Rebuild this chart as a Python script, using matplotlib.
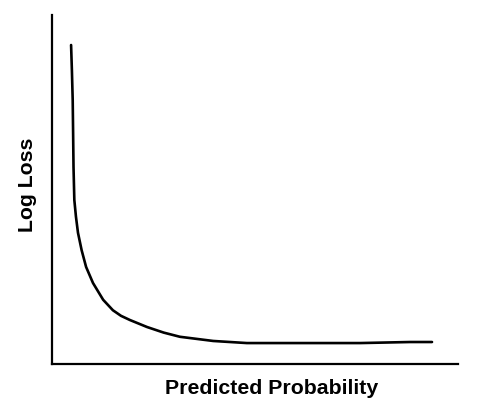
import matplotlib
matplotlib.use("Agg")
import matplotlib.pyplot as plt

# NOTE: curve (predicted probability vs log loss)
probability = [0.047, 0.049, 0.051, 0.052, 0.053, 0.055, 0.059, 0.064, 0.073,
               0.084, 0.101, 0.126, 0.150, 0.170, 0.192, 0.234, 0.275, 0.315,
               0.397, 0.480, 0.562, 0.660, 0.759, 0.882, 0.936]
log_loss = [4.57, 4.21, 3.78, 3.31, 2.82, 2.35, 2.11, 1.88, 1.63,
            1.39, 1.16, 0.92, 0.77, 0.69, 0.63, 0.53, 0.45, 0.39,
            0.33, 0.30, 0.30, 0.30, 0.30, 0.315, 0.315]

x_label = "Predicted Probability"
y_label = "Log Loss"

plt.rcParams['font.family'] = ['Liberation Sans', 'DejaVu Sans']

fig = plt.figure(figsize=(4.89, 4.12), dpi=100)
W, H = 489, 412
ax = fig.add_axes([52 / W, (H - 364) / H, (458 - 52) / W, (364 - 15) / H])

ax.plot(probability, log_loss, color="black", lw=1.9,
        solid_capstyle="round", solid_joinstyle="round")

ax.set_xlim(0, 1)
ax.set_ylim(0, 5)
ax.set_xticks([])
ax.set_yticks([])
for side in ("top", "right"):
    ax.spines[side].set_visible(False)
for side in ("left", "bottom"):
    ax.spines[side].set_linewidth(1.6)

# labels
fig.text(272 / W, 1 - 388 / H, x_label, ha="center", va="center",
         fontsize=15.3, fontweight="bold")
fig.text(28 / W, 1 - 185 / H, y_label, ha="center", va="center",
         rotation=90, fontsize=15.3, fontweight="bold")

fig.savefig("out.png", dpi=100)
